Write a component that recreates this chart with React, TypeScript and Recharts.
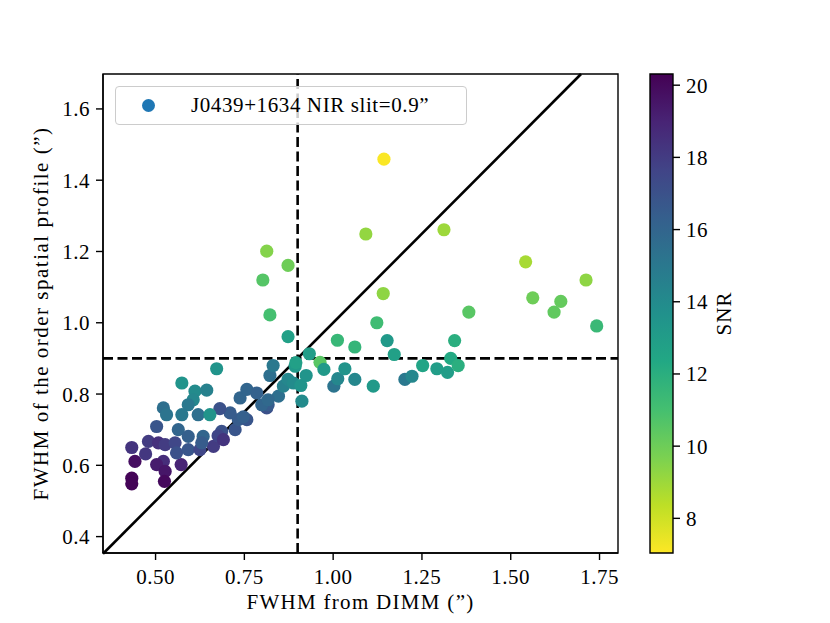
import React from 'react';
import {
  ScatterChart,
  Scatter,
  XAxis,
  YAxis,
  ReferenceLine,
  ReferenceArea,
  Legend,
  ComposedChart,
} from 'recharts';

// ---- data ----
const dimmFwhm = [
  0.433, 0.433, 0.442, 0.433, 0.472, 0.480, 0.508, 0.527, 0.555, 0.522,
  0.503, 0.527, 0.572, 0.559, 0.525, 0.503, 0.522, 0.531, 0.564, 0.592,
  0.634, 0.592, 0.625, 0.663, 0.686, 0.676, 0.691, 0.724, 0.733, 0.757,
  0.747, 0.710, 0.681, 0.738, 0.757, 0.785, 0.813, 0.817, 0.799, 0.846,
  0.817, 0.860, 0.873, 0.822, 0.831, 0.888, 0.893, 0.895, 0.909, 0.912,
  0.924, 0.933, 0.963, 0.974, 1.002, 1.013, 1.033, 1.061, 1.113, 1.012,
  1.061, 1.152, 1.172, 1.202, 1.222, 1.252, 1.292, 1.322, 1.331, 1.352,
  1.342, 1.382, 1.123, 1.141, 1.092, 1.312, 1.143, 1.542, 1.712, 1.562,
  1.641, 1.622, 1.742, 0.813, 0.873, 0.802, 0.822, 0.873, 0.672, 0.574,
  0.611, 0.644, 0.606, 0.592, 0.574, 0.620, 0.653, 0.630,
];
const orderFwhm = [
  0.564, 0.548, 0.611, 0.650, 0.632, 0.667, 0.663, 0.658, 0.663, 0.611,
  0.602, 0.583, 0.602, 0.635, 0.555, 0.709, 0.761, 0.742, 0.700, 0.681,
  0.681, 0.644, 0.644, 0.653, 0.695, 0.683, 0.672, 0.700, 0.728, 0.728,
  0.736, 0.747, 0.759, 0.789, 0.813, 0.803, 0.761, 0.770, 0.770, 0.794,
  0.784, 0.822, 0.841, 0.852, 0.880, 0.831, 0.878, 0.888, 0.824, 0.780,
  0.852, 0.913, 0.889, 0.869, 0.822, 0.843, 0.871, 0.841, 0.822, 0.951,
  0.932, 0.950, 0.911, 0.841, 0.850, 0.880, 0.871, 0.861, 0.900, 0.880,
  0.950, 1.030, 1.000, 1.082, 1.249, 1.261, 1.459, 1.171, 1.120, 1.070,
  1.060, 1.030, 0.991, 1.201, 1.161, 1.120, 1.022, 0.961, 0.871, 0.831,
  0.808, 0.811, 0.784, 0.770, 0.742, 0.742, 0.742, 0.663,
];
const snrValues = [
  20.2, 20.2, 19.8, 18.3, 18.2, 18.0, 18.5, 18.0, 17.5, 18.6,
  19.3, 19.5, 19.0, 17.0, 20.0, 16.8, 15.5, 15.2, 16.0, 16.3,
  16.0, 16.8, 17.5, 18.0, 17.0, 17.6, 18.3, 16.8, 16.5, 16.8,
  16.3, 16.5, 17.0, 16.0, 16.0, 16.2, 17.0, 16.5, 16.0, 15.5,
  15.8, 14.5, 14.2, 15.5, 15.0, 14.0, 13.2, 12.8, 13.5, 14.0,
  13.5, 13.0, 10.5, 13.2, 15.2, 14.2, 13.5, 14.2, 13.2, 11.5,
  11.6, 13.2, 12.8, 15.0, 14.2, 12.6, 13.0, 13.0, 12.3, 12.0,
  12.0, 10.5, 11.2, 9.3, 9.2, 9.0, 7.1, 8.8, 9.3, 10.0,
  10.2, 10.3, 11.4, 9.5, 10.0, 10.6, 11.0, 12.8, 13.5, 13.5,
  14.0, 14.5, 14.2, 15.0, 15.0, 15.5, 13.5, 16.5,
];

const xTicks = [0.5, 0.75, 1.0, 1.25, 1.5, 1.75];
const yTicks = [0.4, 0.6, 0.8, 1.0, 1.2, 1.4, 1.6];
const snrTicks = [8, 10, 12, 14, 16, 18, 20];
const X_DOMAIN: [number, number] = [0.352, 1.802];
const Y_DOMAIN: [number, number] = [0.354, 1.698];
const SNR_DOMAIN: [number, number] = [7.04, 20.31];
const SEEING_CUT = 0.9;
const ONE_TO_ONE = [
  { x: 0.352, y: 0.352 },
  { x: 1.698, y: 1.698 },
];
const legendLabel = 'J0439+1634 NIR slit=0.9\u201D';
const xLabel = 'FWHM from DIMM (\u201D)';
const yLabel = 'FWHM of the order spatial profile (\u201D)';
const cbarLabel = 'SNR';

// viridis colormap stops
const VIRIDIS = [
  '#440154', '#482475', '#414487', '#355f8d', '#2a788e', '#21918c',
  '#22a884', '#44bf70', '#7ad151', '#bddf26', '#fde725',
];

const hex = (c: string) => [1, 3, 5].map((i) => parseInt(c.slice(i, i + 2), 16));
function viridis(t: number) {
  const tt = Math.max(0, Math.min(1, t));
  const pos = tt * (VIRIDIS.length - 1);
  const i = Math.min(VIRIDIS.length - 2, Math.floor(pos));
  const f = pos - i;
  const a = hex(VIRIDIS[i]);
  const b = hex(VIRIDIS[i + 1]);
  const c = a.map((v, k) => Math.round(v + (b[k] - v) * f));
  return `rgb(${c[0]},${c[1]},${c[2]})`;
}
// reversed viridis over SNR range
const snrColor = (s: number) =>
  viridis(1 - (s - SNR_DOMAIN[0]) / (SNR_DOMAIN[1] - SNR_DOMAIN[0]));

const points = dimmFwhm.map((x, i) => ({ x, y: orderFwhm[i], snr: snrValues[i] }));

const FONT = "'Liberation Serif', 'DejaVu Serif', serif";
const FS = 21;

const Dot = (props: any) => {
  const { cx, cy, payload } = props;
  if (cx == null || cy == null) return null;
  return <circle cx={cx} cy={cy} r={6.6} fill={snrColor(payload.snr)} />;
};

const XLab = (props: any) => {
  const vb = props.viewBox || {};
  return (
    <text
      x={vb.x + vb.width / 2}
      y={vb.y + 56}
      textAnchor="middle"
      fontFamily={FONT}
      fontSize={FS}
      fill="#000"
      style={{ letterSpacing: '1.3px' }}
    >
      {xLabel}
    </text>
  );
};

const YLab = (props: any) => {
  const vb = props.viewBox || {};
  const cx = vb.x + vb.width - 62;
  const cy = vb.y + vb.height / 2;
  return (
    <text
      x={cx}
      y={cy}
      transform={`rotate(-90 ${cx} ${cy})`}
      textAnchor="middle"
      dominantBaseline="central"
      fontFamily={FONT}
      fontSize={FS}
      fill="#000"
      style={{ letterSpacing: '1.5px' }}
    >
      {yLabel}
    </text>
  );
};

const CbarLab = (props: any) => {
  const vb = props.viewBox || {};
  const cx = vb.x + 51;
  const cy = vb.y + vb.height / 2;
  return (
    <text
      x={cx}
      y={cy}
      transform={`rotate(-90 ${cx} ${cy})`}
      textAnchor="middle"
      dominantBaseline="central"
      fontFamily={FONT}
      fontSize={FS}
      fill="#000"
      style={{ letterSpacing: '1px' }}
    >
      {cbarLabel}
    </text>
  );
};

const LegendBox = () => (
  <div
    style={{
      boxSizing: 'border-box',
      width: 352,
      height: 39,
      border: '1px solid #cccccc',
      borderRadius: 4,
      background: 'rgba(255,255,255,0.8)',
      position: 'relative',
      fontFamily: FONT,
      fontSize: FS,
      color: '#000',
    }}
  >
    <span
      style={{
        position: 'absolute',
        left: 26,
        top: 12,
        width: 13,
        height: 13,
        borderRadius: '50%',
        background: '#1f77b4',
      }}
    />
    <span
      style={{
        position: 'absolute',
        left: 75,
        top: 5,
        whiteSpace: 'nowrap',
        lineHeight: '26px',
        letterSpacing: '0.6px',
      }}
    >
      {legendLabel}
    </span>
  </div>
);

const tickStyle = { fontFamily: FONT, fontSize: FS, fill: '#000', letterSpacing: '0.5px' };
const axisLine = { stroke: '#000', strokeWidth: 1.4 };

export default function App() {
  return (
    <div style={{ position: 'absolute', left: 0, top: 0, width: 830, height: 623, background: '#fff' }}>
      <div style={{ position: 'absolute', left: 0, top: 0 }}>
        <ScatterChart
          width={830}
          height={623}
          margin={{ top: 74, right: 212, bottom: 30, left: 43 }}
        >
          <XAxis
            type="number"
            dataKey="x"
            domain={X_DOMAIN}
            allowDataOverflow
            ticks={xTicks}
            tickFormatter={(v: number) => v.toFixed(2)}
            tick={tickStyle}
            tickSize={7}
            tickMargin={9}
            height={40}
            axisLine={axisLine}
            tickLine={axisLine}
            label={<XLab />}
          />
          <YAxis
            type="number"
            dataKey="y"
            domain={Y_DOMAIN}
            allowDataOverflow
            ticks={yTicks}
            tickFormatter={(v: number) => v.toFixed(1)}
            tick={tickStyle}
            tickSize={7}
            tickMargin={6}
            width={60}
            axisLine={axisLine}
            tickLine={axisLine}
            label={<YLab />}
          />
          <Scatter
            name={legendLabel}
            data={points}
            fill="#1f77b4"
            shape={<Dot />}
            isAnimationActive={false}
          />
          <ReferenceLine
            segment={ONE_TO_ONE}
            stroke="#000"
            strokeWidth={2.6}
            ifOverflow="visible"
          />
          <ReferenceLine x={SEEING_CUT} stroke="#000" strokeWidth={2.6} strokeDasharray="10 4.5" />
          <ReferenceLine y={SEEING_CUT} stroke="#000" strokeWidth={2.6} strokeDasharray="10 4.5" />
          <ReferenceArea
            x1={X_DOMAIN[0]}
            x2={X_DOMAIN[1]}
            y1={Y_DOMAIN[0]}
            y2={Y_DOMAIN[1]}
            fill="none"
            fillOpacity={0}
            stroke="#000"
            strokeWidth={1.4}
            ifOverflow="visible"
          />
          <Legend
            layout="horizontal"
            verticalAlign="middle"
            align="center"
            wrapperStyle={{ left: 115, top: 86, width: 352, height: 39 }}
            content={() => <LegendBox />}
          />
        </ScatterChart>
      </div>
      <div style={{ position: 'absolute', left: 620, top: 0 }}>
        <ComposedChart
          width={155}
          height={623}
          data={[{ x: 0 }, { x: 1 }]}
          margin={{ top: 74, right: 0, bottom: 70, left: 30 }}
        >
          <defs>
            <linearGradient id="viridisR" x1="0" y1="0" x2="0" y2="1">
              {VIRIDIS.map((c, i) => (
                <stop key={c} offset={`${(i / (VIRIDIS.length - 1)) * 100}%`} stopColor={c} />
              ))}
            </linearGradient>
          </defs>
          <XAxis type="number" dataKey="x" domain={[0, 1]} hide />
          <YAxis
            type="number"
            orientation="right"
            domain={SNR_DOMAIN}
            allowDataOverflow
            ticks={snrTicks}
            tick={tickStyle}
            tickSize={7}
            tickMargin={6}
            width={102}
            axisLine={false}
            tickLine={axisLine}
            label={<CbarLab />}
          />
          <ReferenceArea
            x1={0}
            x2={1}
            y1={SNR_DOMAIN[0]}
            y2={SNR_DOMAIN[1]}
            fill="url(#viridisR)"
            fillOpacity={1}
            stroke="#000"
            strokeWidth={1.4}
            ifOverflow="visible"
          />
        </ComposedChart>
      </div>
    </div>
  );
}
